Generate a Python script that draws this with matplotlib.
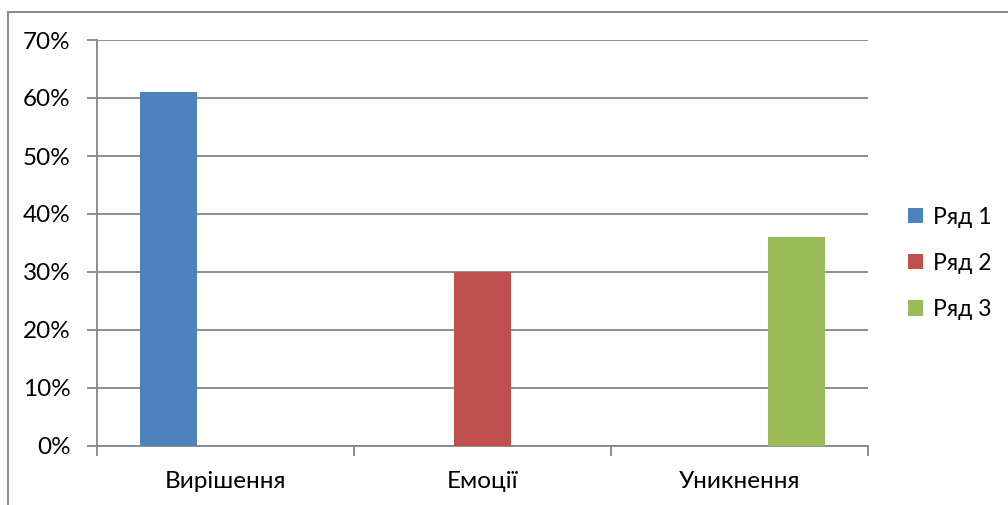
import numpy as np
import matplotlib.pyplot as plt
from matplotlib.patches import Rectangle
from matplotlib.ticker import FixedLocator, PercentFormatter

plt.rcParams['font.family'] = ['Lato', 'DejaVu Sans']

categories = ["Вирішення", "Емоції", "Уникнення"]
series_names = ["Ряд 1", "Ряд 2", "Ряд 3"]
row1 = [0.61, 0.0, 0.0]
row2 = [0.0, 0.30, 0.0]
row3 = [0.0, 0.0, 0.36]
colors = ["#4F81BD", "#C0504D", "#9BBB59"]

fig = plt.figure(figsize=(10.08, 5.05), dpi=100)
ax = fig.add_axes([97/1008, 59/505, 771/1008, 406/505])

# outer chart frame
fig.patches.append(Rectangle((8/1008, -0.05), 1.1, 1 - 12/505 + 0.05,
                             transform=fig.transFigure, fill=False,
                             edgecolor="#8c8c8c", linewidth=1.5))

x = np.arange(len(categories))
w = 1 / 4.5
for i, (vals, name, c) in enumerate(zip([row1, row2, row3], series_names, colors)):
    ax.bar(x + (i - 1) * w, vals, width=w, color=c, linewidth=0, label=name, zorder=3)

ax.set_xlim(-0.5, 2.5)
ax.set_ylim(0, 0.7)
ax.set_yticks(np.arange(0, 0.71, 0.1))
ax.yaxis.set_major_formatter(PercentFormatter(1.0, decimals=0))
ax.set_xticks(x)
ax.set_xticklabels(categories)
ax.xaxis.set_minor_locator(FixedLocator([-0.5, 0.5, 1.5, 2.5]))

ax.grid(axis="y", color="#868686", linewidth=1.3, zorder=0)
for s in ["top", "right"]:
    ax.spines[s].set_visible(False)
for s in ["left", "bottom"]:
    ax.spines[s].set_color("#868686")
    ax.spines[s].set_linewidth(1.3)

ax.tick_params(axis="y", length=7, width=1.3, color="#868686", pad=12, labelsize=17.5)
ax.tick_params(axis="x", which="major", length=0, pad=18, labelsize=17.5)
ax.tick_params(axis="x", which="minor", length=7, width=1.3, color="#868686")

ax.legend(loc="center left", bbox_to_anchor=(1 + 40/771, 0.45), frameon=False,
          fontsize=16.5, handlelength=0.65, handleheight=0.65, handletextpad=0.45,
          labelspacing=1.1, borderaxespad=0, borderpad=0)

fig.savefig("out.png", dpi=100)
